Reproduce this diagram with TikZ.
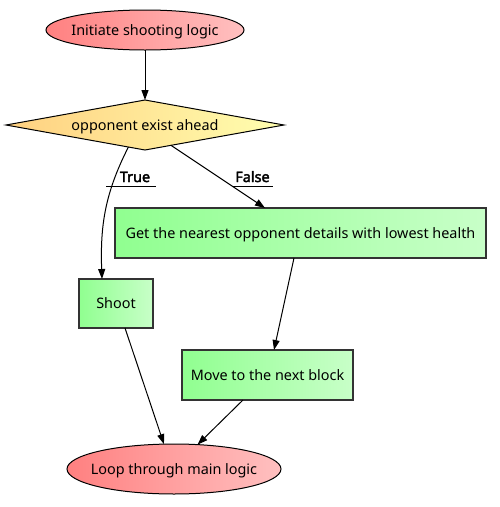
\documentclass[tikz,border=0pt]{standalone}
\usepackage{fontspec}
\setmainfont{Noto Sans}[AutoFakeBold=2.5]
\usetikzlibrary{positioning,shapes.geometric,arrows.meta}

\definecolor{redl}{HTML}{FF8080}
\definecolor{redr}{HTML}{FFC0C0}
\definecolor{yell}{HTML}{FFD080}
\definecolor{yelr}{HTML}{FFFFB0}
\definecolor{grnl}{HTML}{90FF90}
\definecolor{grnr}{HTML}{C8FFC8}
\definecolor{boxline}{HTML}{333333}

\begin{document}
\begin{tikzpicture}[x=1pt, y=1pt,
    font=\fontsize{14.4}{17}\selectfont,
    every node/.append style={text height=11pt, text depth=1pt},
    terminal/.style={draw, ellipse, line width=1pt, outer sep=0pt, left color=redl, right color=redr, inner xsep=-8pt, inner ysep=0pt},
    decision/.style={draw, diamond, aspect=5.56, line width=1pt, outer sep=0pt, left color=yell, right color=yelr, minimum width=278pt, minimum height=50pt, inner sep=0pt},
    process/.style={draw=boxline, rectangle, line width=1.3pt, outer sep=0pt, left color=grnl, right color=grnr, minimum height=50pt, inner sep=0pt},
    arr/.style={-{Triangle[length=10pt, width=7pt]}, line width=1pt},
    branch/.style={font=\fontsize{14.4}{17}\selectfont\bfseries, inner sep=0pt, anchor=base}
]
    \useasboundingbox (0,0) rectangle (499,-507);

    % Start
    \node [terminal, minimum width=198pt, minimum height=40pt] (init) at (145,-30) {Initiate shooting logic};

    % Decision
    \node [decision, below=50pt of init] (cond) {opponent exist ahead};

    % Steps
    \node [process, minimum width=371pt, below=58pt of cond, xshift=155.5pt] (nearest) {Get the nearest opponent details with lowest health};
    \node [process, minimum width=74pt, minimum height=49pt, below=129pt of cond, xshift=-29pt] (shoot) {Shoot};
    \node [process, minimum width=171pt, below=92pt of nearest, xshift=-33pt] (move) {Move to the next block};

    % End
    \node [terminal, minimum width=214pt, minimum height=50pt, below=44pt of move, xshift=-93.5pt] (loop) {Loop through main logic};

    % Branch labels
    \node [branch] (truelbl) at (135,-182) {True};
    \node [branch] (falselbl) at (252.5,-182) {False};
    \draw [line width=1pt] ([xshift=-29pt, yshift=-4pt]truelbl.base) -- ([xshift=21pt, yshift=-4pt]truelbl.base);
    \draw [line width=1pt] ([xshift=-19.5pt, yshift=-4pt]falselbl.base) -- ([xshift=20.5pt, yshift=-4pt]falselbl.base);

    % Arrows
    \draw [arr] (init) -- (cond);
    \draw [arr] (cond.233) to[out=243, in=92] ([xshift=-14pt]shoot.north);
    \draw [arr] (cond.322) -- ([xshift=-35.5pt]nearest.north);
    \draw [arr] ([xshift=-6.5pt]nearest.south) -- ([xshift=6.5pt]move.north);
    \draw [arr] ([xshift=9pt]shoot.south) -- (loop.112);
    \draw [arr] ([xshift=-24.5pt]move.south) -- (loop.46);

\end{tikzpicture}
\end{document}
